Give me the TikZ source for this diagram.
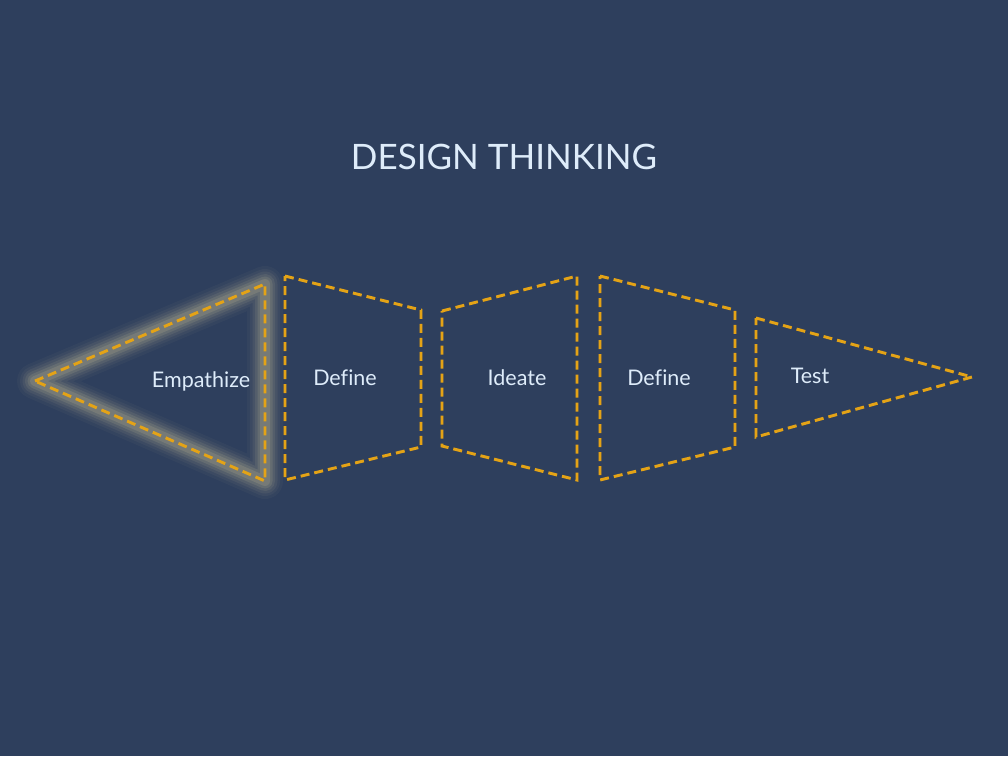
\documentclass[tikz,border=0pt]{standalone}
\usepackage{fontspec}
\setmainfont[Ligatures=NoCommon]{Lato}
\definecolor{bg}{RGB}{46,63,93}
\definecolor{gold}{RGB}{228,163,22}
\definecolor{txt}{RGB}{222,236,250}
\definecolor{glow}{RGB}{145,145,130}
\begin{document}
\begin{tikzpicture}[x=1pt,y=-1pt,
  stage/.style={draw=gold,line width=2.9pt,dash pattern=on 9pt off 5pt,line join=miter},
  shade/.style={draw=black!70,opacity=0.3,line width=3.6pt,dash pattern=on 9pt off 5pt},
  lbl/.style={text=txt,font=\fontsize{21.5}{24}\selectfont},
  glowline/.style={draw=glow,line join=round,line cap=round}]
\fill[bg] (0,0) rectangle (1008,756);
\useasboundingbox (0,0) rectangle (1008,756);
% title
\node[text=txt,font=\fontsize{35}{40}\selectfont] (title) at (504,157) {DESIGN THINKING};
% corners
\coordinate (e1) at (35,381); \coordinate (e2) at (265,284); \coordinate (e3) at (265,481);
\coordinate (d1) at (285,276); \coordinate (d2) at (421,310); \coordinate (d3) at (421,447); \coordinate (d4) at (285,480);
\coordinate (i1) at (442,311); \coordinate (i2) at (577,276); \coordinate (i3) at (577,480); \coordinate (i4) at (442,446);
\coordinate (f1) at (600,276); \coordinate (f2) at (735,310); \coordinate (f3) at (735,447); \coordinate (f4) at (600,480);
\coordinate (t1) at (756,318); \coordinate (t2) at (972,377); \coordinate (t3) at (756,437);
% glow
\foreach \w/\o in {36/0.07,30/0.09,25/0.13,20/0.18,15/0.28,10/0.4}{
  \draw[glowline,line width=\w pt,opacity=\o] (e1) -- (e2) -- (e3) -- cycle;
}
% shadows
\begin{scope}[shift={(1.5,1.5)}]
\draw[shade] (d1) -- (d2) -- (d3) -- (d4) -- cycle;
\draw[shade] (i1) -- (i2) -- (i3) -- (i4) -- cycle;
\draw[shade] (f1) -- (f2) -- (f3) -- (f4) -- cycle;
\draw[shade] (t1) -- (t2) -- (t3) -- cycle;
\end{scope}
% stages
\draw[stage] (e1) -- (e2) -- (e3) -- cycle;
\draw[stage] (d1) -- (d2) -- (d3) -- (d4) -- cycle;
\draw[stage] (i1) -- (i2) -- (i3) -- (i4) -- cycle;
\draw[stage] (f1) -- (f2) -- (f3) -- (f4) -- cycle;
\draw[stage] (t1) -- (t2) -- (t3) -- cycle;
% labels
\node[lbl] (emp) at (201,381) {Empathize};
\node[lbl] (def1) at (345,378) {Define};
\node[lbl] (ide) at (517,378) {Ideate};
\node[lbl] (def2) at (659,378) {Define};
\node[lbl] (tst) at (810,376) {Test};
\end{tikzpicture}
\end{document}
